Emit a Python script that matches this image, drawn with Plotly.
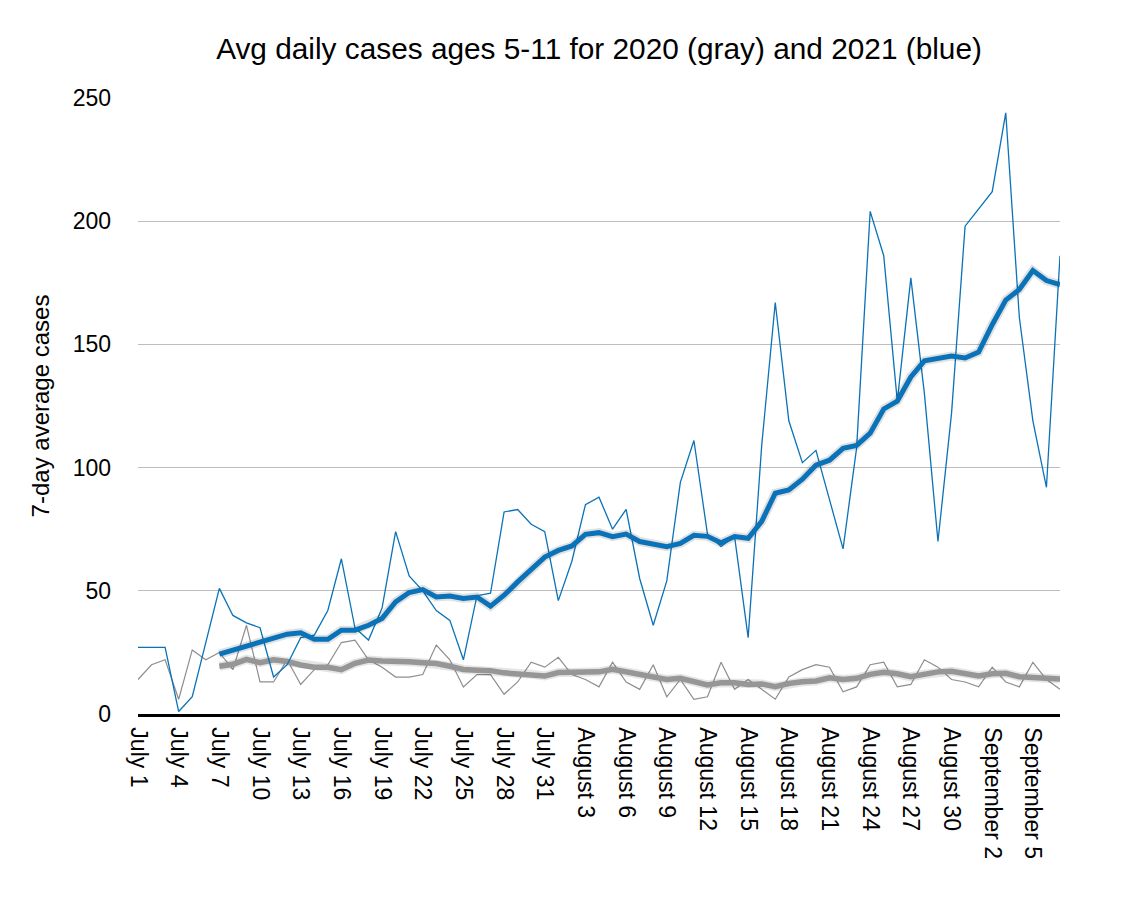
import plotly.graph_objects as go

# ---- categories (days, July 1 – September 7) ----
months = ["July", "August", "September"]
month_days = [31, 31, 7]
days = [f"{m} {d}" for m, n in zip(months, month_days) for d in range(1, n + 1)]
tick_labels = days[::3]

# ---- 2021 daily cases (thin blue) ----
daily_2021 = [27, 27, 27, 1, 7, 29, 51, 40, 37, 35, 15, 20, 31, 32, 42, 63, 35, 30,
              43, 74, 56, 50, 42, 38, 22, 48, 49, 82, 83, 77, 74, 46, 62, 85, 88, 75,
              83, 55, 36, 54, 94, 111, 73, 68, 72, 31, 109, 167, 119, 102, 107, 87, 67,
              108, 204, 186, 127, 177, 130, 70, 122, 198, 205, 212, 244, 161, 119, 92, 186]

# ---- 2021 7-day average (thick blue) ----
avg_2021 = [None] * 6 + [24.3, 25.9, 27.5, 28.9, 30.7, 32.4, 33, 30.3, 30.3, 34, 34, 36,
                         38.8, 45.5, 49.3, 50.5, 47.5, 47.9, 46.9, 47.5, 43.8, 48.2, 53.6,
                         59, 63.7, 66.4, 68.2, 72.9, 73.6, 72, 73, 70, 68.7, 67.9, 69.2,
                         72.5, 72.1, 69.5, 72, 71.3, 78.2, 89.6, 90.9, 95.3, 101, 103,
                         107.8, 109, 114, 123.8, 127, 136.8, 143.3, 144.1, 145.3, 144.5,
                         146.9, 158, 168, 172.3, 180, 175.9, 174.3]

# ---- 2020 daily cases (thin gray) ----
daily_2020 = [14, 20, 22, 6, 26, 22, 25, 18, 36, 13, 13, 22, 12, 18, 20, 29, 30, 22, 19,
              15, 15, 16, 28, 22, 11, 16, 16, 8, 13, 21, 19, 23, 16, 14, 11, 21, 13, 10,
              20, 7, 14, 6, 7, 21, 10, 14, 10, 6, 15, 18, 20, 19, 9, 11, 20, 21, 11, 12,
              22, 19, 14, 13, 11, 19, 13, 11, 21, 14, 10]

# ---- 2020 7-day average (thick gray) ----
avg_2020 = [None] * 6 + [19.4, 20.2, 22.2, 20.8, 22, 21.3, 19.9, 19, 19, 18, 20.6, 21.9,
                         21.5, 21.6, 21.2, 20.8, 20.5, 19.4, 18.1, 17.8, 17.6, 16.7, 16.4,
                         16.1, 15.4, 16.8, 16.8, 16.9, 17.1, 18.1, 17.1, 16.1, 15.1, 14,
                         14.5, 13.4, 11.8, 12.7, 12.7, 12, 12.2, 11.1, 12.4, 13.1, 13.4,
                         14.7, 14, 14.5, 16.1, 16.9, 16.3, 15.1, 16.1, 17.1, 17.3, 16.5,
                         15.4, 16.3, 16.5, 15.1, 14.7, 14.7, 14.2]

BLUE = "#0A72B8"
GRAY_THIN = "#8E8E8E"
GRAY_THICK = "#969696"
FONT = "Liberation Sans, Arial, Helvetica, sans-serif"

fig = go.Figure()
common = dict(x=days, mode="lines", hoverinfo="skip", showlegend=False)

fig.add_trace(go.Scatter(y=daily_2020, line=dict(color=GRAY_THIN, width=1.2), **common))
fig.add_trace(go.Scatter(y=avg_2020, line=dict(color="rgba(0,0,0,0.10)", width=9), **common))
fig.add_trace(go.Scatter(y=avg_2020, line=dict(color=GRAY_THICK, width=5.5), **common))
fig.add_trace(go.Scatter(y=daily_2021, line=dict(color=BLUE, width=1.3), **common))
fig.add_trace(go.Scatter(y=avg_2021, line=dict(color="rgba(0,0,0,0.12)", width=9), **common))
fig.add_trace(go.Scatter(y=avg_2021, line=dict(color=BLUE, width=5), **common))

fig.update_layout(
    width=1126, height=900,
    margin=dict(l=138, r=66, t=98, b=186, autoexpand=False),
    paper_bgcolor="white", plot_bgcolor="white",
    font=dict(family=FONT, color="black"),
    title=dict(text="Avg daily cases ages 5-11 for 2020 (gray) and 2021 (blue)",
               x=0.532, xanchor="center", y=1 - 49 / 900, yanchor="middle",
               yref="container", font=dict(size=29.8, color="black")),
)
fig.update_xaxes(
    type="category", categoryorder="array", categoryarray=days,
    range=[0, len(days) - 1], automargin=False,
    tickmode="array", tickvals=tick_labels, ticktext=tick_labels,
    tickangle=90, tickfont=dict(size=23, color="black"),
    showgrid=False, zeroline=False,
    showline=True, linecolor="black", linewidth=2.5,
    ticks="", ticklabelstandoff=6,
)
fig.update_yaxes(
    range=[0, 250], tickvals=[0, 50, 100, 150, 200, 250], automargin=False,
    tickfont=dict(size=23, color="black"),
    showgrid=True, gridcolor="#BDBDBD", gridwidth=1,
    zeroline=False, showline=False, ticks="", ticklabelstandoff=26,
    title=dict(text="7-day average cases", font=dict(size=24, color="black"), standoff=16),
)

fig.write_html("out.html",
               config={"displayModeBar": False},
               post_script="document.body.style.margin='0px';document.body.style.padding='0px';")
